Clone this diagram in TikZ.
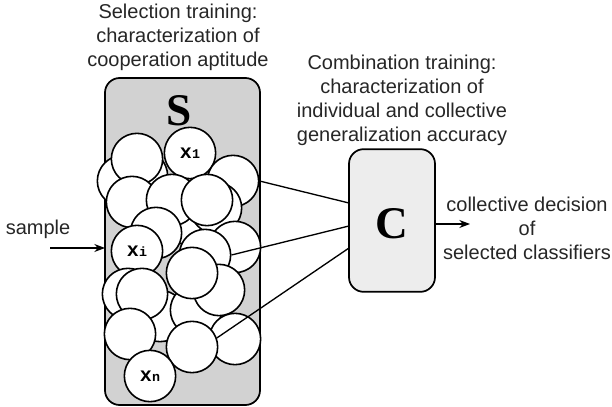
\documentclass[tikz,border=0pt]{standalone}
\usepackage{fontspec}
\setmainfont{Liberation Sans}
\newfontfamily\boxfont{Liberation Serif}
\newfontfamily\labelfont{Liberation Mono}
\usetikzlibrary{arrows.meta}
\definecolor{sfill}{HTML}{D2D2D2}
\definecolor{cfill}{HTML}{EDEDED}
\tikzset{
  panel/.style={draw=black, line width=1.3pt, rounded corners=11pt},
  clf/.style={circle, draw=black, fill=white, line width=1.2pt, minimum size=38.5pt, inner sep=0pt},
  caption/.style={align=center, font=\fontsize{15}{18}\selectfont, text=black!85},
  link/.style={line width=1pt},
  flow/.style={line width=1pt, -{Stealth[length=8pt,width=6pt]}},
  bigletter/.style={font=\boxfont\bfseries\fontsize{34}{34}\selectfont}
}
\newcommand{\clab}[1]{{\labelfont\bfseries\fontsize{15}{15}\selectfont x\fontsize{10}{10}\selectfont #1}}
\begin{document}
\begin{tikzpicture}[x=0.75pt,y=-0.75pt]
\useasboundingbox (0,0) rectangle (612,407);

% selection pool
\draw[panel, fill=sfill] (105,78) rectangle (260,405);
\node[bigletter] (S) at (179,111) {S};

% classifier pool, back to front
\node[clf] (c01) at (142,176) {};
\node[clf] (c02) at (123,181) {};
\node[clf] (c03) at (137,159) {};
\node[clf] (c04) at (190,153) {\clab{1}};
\node[clf] (c05) at (233,181) {};
\node[clf] (c06) at (183,218) {};
\node[clf] (c07) at (216,208) {};
\node[clf] (c08) at (132,202) {};
\node[clf] (c09) at (172,200) {};
\node[clf] (c10) at (207,200) {};
\node[clf] (c11) at (156,233) {};
\node[clf] (c12) at (235,247) {};
\node[clf] (c13) at (205,255) {};
\node[clf] (c14) at (137,251) {\clab{i}};
\node[clf] (c15) at (128,294) {};
\node[clf] (c16) at (160,316) {};
\node[clf] (c17) at (142,294) {};
\node[clf] (c18) at (196,310) {};
\node[clf] (c19) at (219,290) {};
\node[clf] (c20) at (192,273) {};
\node[clf] (c21) at (130,334) {};
\node[clf] (c22) at (235,339) {};
\node[clf] (c23) at (192,347) {};
\node[clf] (c24) at (150,376) {\clab{n}};

% combiner
\node[panel, fill=cfill, minimum width=64.5pt, minimum height=107pt, inner sep=0pt] (C) at (392,220.5) {};
\node[bigletter] (Cl) at (392,224) {C};

% selected classifiers feeding the combiner
\coordinate (in1) at (349,203);
\coordinate (in2) at (349,226);
\coordinate (in3) at (349,248);
\draw[link] (c05.east) -- (in1);
\draw[link] (c13.east) -- (in2);
\draw[link] (c23.20) -- (in3);

% input sample
\node[caption] (smp) at (38,229) {sample};
\coordinate (sin) at (50,248);
\draw[flow] (sin) -- (105,248);

% output
\coordinate (out) at (470,224);
\draw[flow] (C.east |- out) -- (out);
\node[caption] (dec) at (527,228) {collective decision\\of\\selected classifiers};

% captions
\node[caption] (seltxt) at (178,37) {Selection training:\\characterization of\\cooperation aptitude};
\node[caption] (combtxt) at (402,100) {Combination training:\\characterization of\\individual and collective\\generalization accuracy};
\end{tikzpicture}
\end{document}
